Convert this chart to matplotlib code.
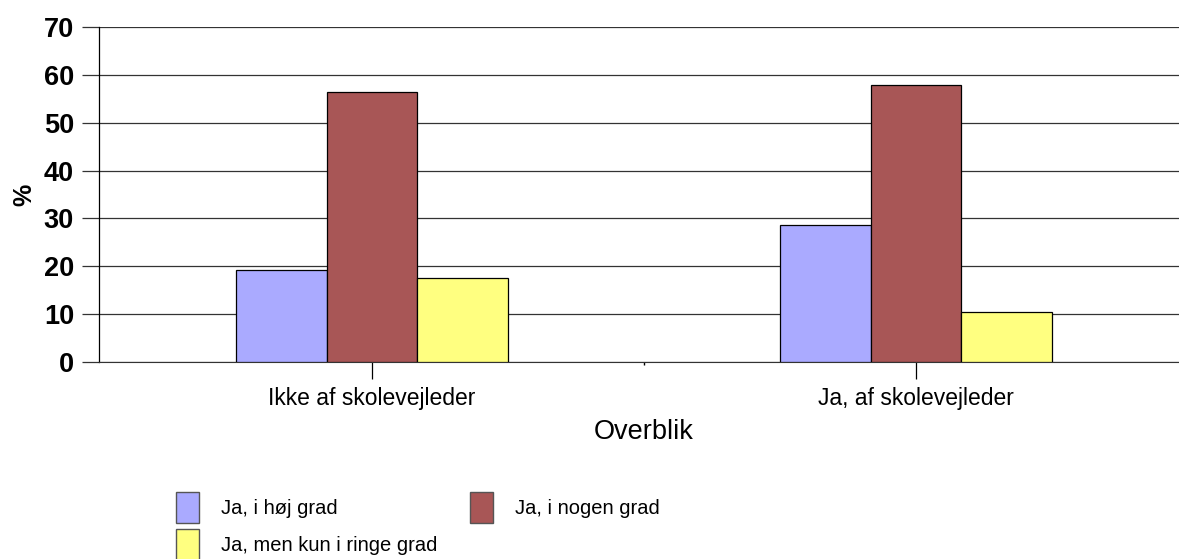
import numpy as np
import matplotlib.pyplot as plt
from matplotlib.patches import Patch

plt.rcParams['font.family'] = ['Liberation Sans', 'DejaVu Sans']

categories = ["Ikke af skolevejleder", "Ja, af skolevejleder"]
series_names = ["Ja, i høj grad", "Ja, i nogen grad", "Ja, men kun i ringe grad"]
hoj = [19.2, 28.6]
nogen = [56.4, 57.9]
ringe = [17.5, 10.4]
colors = ['#AAAAFF', '#A85656', '#FFFF80']

W, H = 1179, 559
fig = plt.figure(figsize=(W / 100, H / 100), dpi=100)
ax = fig.add_axes([99 / W, 1 - 362 / H, (W - 99) / W, 335 / H])

x = np.arange(len(categories))
bw = 1 / 6
for i, vals in enumerate([hoj, nogen, ringe]):
    ax.bar(x + (i - 1) * bw, vals, bw, color=colors[i], edgecolor='black',
           linewidth=0.9, zorder=3)

ax.set_ylim(0, 70)
ax.set_yticks(range(0, 71, 10))
ax.set_xlim((99 - 372) / 544, (W - 372) / 544)
ax.set_xticks(x)
ax.set_xticks([0.5], minor=True)
ax.set_xticklabels(categories, fontsize=16.5)
ax.tick_params(axis='x', which='major', length=12, width=0.9, pad=6)
ax.tick_params(axis='x', which='minor', length=2, width=1)
ax.tick_params(axis='y', length=12, width=0.9, color='#333333', pad=6, labelsize=19.5)
for lab in ax.get_yticklabels():
    lab.set_fontweight('bold')

ax.yaxis.grid(True, color='#333333', linewidth=0.9, zorder=0)
ax.set_axisbelow(True)
for s in ['top', 'right']:
    ax.spines[s].set_visible(False)
ax.spines['left'].set_linewidth(0.9)
ax.spines['bottom'].set_color('#333333')

ax.set_ylabel('%', fontsize=18, fontweight='bold')
ax.yaxis.set_label_coords(-63 / 1080, 0.5)
ax.set_xlabel('Overblik', fontsize=19.5)
ax.xaxis.set_label_coords((644 - 99) / 1080, -57 / 335)

handles = [Patch(facecolor=colors[0], edgecolor='#555555', label=series_names[0]),
           Patch(facecolor=colors[2], edgecolor='#555555', label=series_names[2]),
           Patch(facecolor=colors[1], edgecolor='#555555', label=series_names[1])]
prop = {'size': 14.5}
fig.legend(handles=handles, ncol=2, loc='upper left', bbox_to_anchor=(168 / W, 1 - 484 / H),
           frameon=False, prop=prop, handlelength=1.15, handleheight=2.0,
           handletextpad=1.1, columnspacing=1.6, labelspacing=0.3, borderaxespad=0)

fig.savefig('out.png', dpi=100)
